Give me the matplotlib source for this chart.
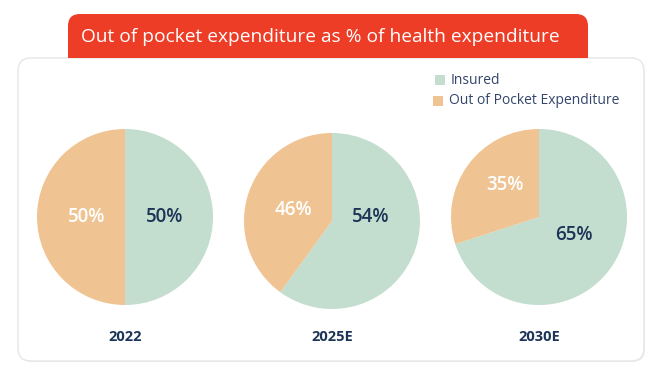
import matplotlib.pyplot as plt
from matplotlib.patches import FancyBboxPatch, Rectangle

plt.rcParams['font.family'] = ['Open Sans', 'DejaVu Sans']

title = "Out of pocket expenditure as % of health expenditure"
years = ["2022", "2025E", "2030E"]
series_names = ["Insured", "Out of Pocket Expenditure"]
# printed labels
insured_labels = ["50%", "54%", "65%"]
oop_labels = ["50%", "46%", "35%"]
# wedge sizes as drawn in the picture
insured = [50, 60, 70]
out_of_pocket = [50, 40, 30]

green = "#C3DDCF"
orange = "#F0C393"
red = "#EE3D26"
navy = "#1B3457"

W, H = 664, 375
fig = plt.figure(figsize=(W / 100, H / 100), dpi=100)
ax = fig.add_axes([0, 0, 1, 1])
ax.axis('off')

# card with faint shadow
ax.add_patch(FancyBboxPatch((19, H - 362), 626, 302, boxstyle="round,pad=0,rounding_size=13",
                            fc="#EDEDED", ec="none", zorder=0))
ax.add_patch(FancyBboxPatch((18, H - 361), 626, 303, boxstyle="round,pad=0,rounding_size=13",
                            fc="white", ec="#E6E6E6", lw=1, zorder=1))

# title banner (rounded top, square bottom)
ax.add_patch(FancyBboxPatch((68, H - 58), 520, 44, boxstyle="round,pad=0,rounding_size=12",
                            fc=red, ec="none", zorder=2))
ax.add_patch(Rectangle((68, H - 58), 520, 20, fc=red, ec="none", zorder=2))
ax.text(320, H - 37, title, color="white", fontsize=13.8, ha="center", va="center", zorder=3)

centers = [(125, H - 217), (332, H - 221), (539, H - 217)]
# label offsets (px) from pie centre: (insured, out of pocket)
label_off = [((40, 0), (-38, 0)), ((39, 4), (-39, 11)), ((35, -18), (-34, 32))]
radius = 88
for i, c in enumerate(centers):
    ax.pie([insured[i], out_of_pocket[i]], colors=[green, orange],
           startangle=90, counterclock=False, center=c, radius=radius,
           wedgeprops=dict(linewidth=0, zorder=3))
    for lab, off, col in zip([insured_labels[i], oop_labels[i]], label_off[i], [navy, "white"]):
        ax.text(c[0] + off[0], c[1] + off[1], lab, color=col, fontsize=13.5,
                fontweight='semibold', ha="center", va="center", zorder=4)
    ax.text(c[0], H - 337, years[i], color=navy, fontsize=10.5, fontweight='bold',
            ha="center", va="center", zorder=4)

ax.set_xlim(0, W)
ax.set_ylim(0, H)
ax.set_aspect('equal')

# legend
for j, (name, col) in enumerate(zip(series_names, [green, orange])):
    y = H - 80 - j * 21
    x0 = 435 - 2 * j
    ax.add_patch(Rectangle((x0, y - 5), 10, 10, fc=col, ec="none", zorder=4))
    ax.text(x0 + 16, y, name, color="#34456A", fontsize=10, ha="left", va="center", zorder=4)

fig.savefig("out.png", dpi=100)
